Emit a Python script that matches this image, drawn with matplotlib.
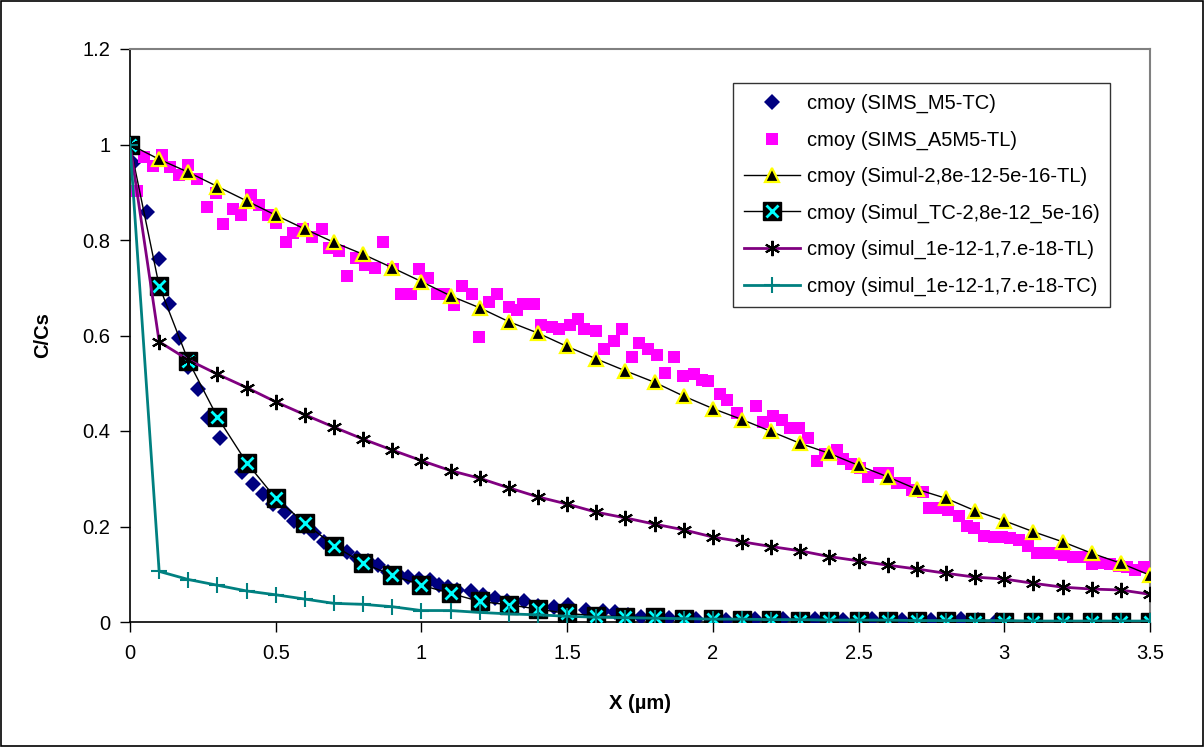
import matplotlib
matplotlib.use("Agg")
import matplotlib.pyplot as plt
from matplotlib.patches import Rectangle

plt.rcParams['font.family'] = ['Liberation Sans', 'DejaVu Sans']

# simulated profiles share the same depth grid (0 .. 3.5 um, step 0.1)
x_sim = [0.0, 0.1, 0.2, 0.3, 0.4, 0.5, 0.6, 0.7, 0.8, 0.9,
         1.0, 1.1, 1.2, 1.3, 1.4, 1.5, 1.6, 1.7, 1.8, 1.9,
         2.0, 2.1, 2.2, 2.3, 2.4, 2.5, 2.6, 2.7, 2.8, 2.9,
         3.0, 3.1, 3.2, 3.3, 3.4, 3.5]

simul_tl = [1.0, 0.969, 0.942, 0.912, 0.882, 0.852, 0.823, 0.795, 0.770, 0.742,
            0.713, 0.683, 0.658, 0.629, 0.605, 0.577, 0.551, 0.526, 0.502, 0.473,
            0.447, 0.424, 0.399, 0.374, 0.353, 0.328, 0.304, 0.278, 0.259, 0.233,
            0.212, 0.189, 0.168, 0.144, 0.123, 0.098]

simul_tc = [1.0, 0.704, 0.547, 0.429, 0.334, 0.259, 0.207, 0.160, 0.123, 0.098,
            0.077, 0.060, 0.043, 0.036, 0.027, 0.018, 0.013, 0.011, 0.010, 0.006,
            0.006, 0.004, 0.004, 0.003, 0.003, 0.002, 0.002, 0.002, 0.002, 0.001,
            0.001, 0.001, 0.001, 0.001, 0.001, 0.001]

simul2_tl = [1.0, 0.587, 0.549, 0.519, 0.491, 0.461, 0.434, 0.408, 0.383, 0.360,
             0.338, 0.317, 0.301, 0.281, 0.262, 0.247, 0.230, 0.218, 0.205, 0.193,
             0.178, 0.168, 0.158, 0.149, 0.137, 0.128, 0.119, 0.111, 0.102, 0.094,
             0.090, 0.081, 0.073, 0.069, 0.067, 0.058]

simul2_tc = [1.0, 0.106, 0.089, 0.077, 0.065, 0.057, 0.048, 0.039, 0.037, 0.032,
             0.024, 0.024, 0.020, 0.017, 0.015, 0.012, 0.010, 0.009, 0.008, 0.007,
             0.006, 0.006, 0.005, 0.005, 0.004, 0.004, 0.004, 0.003, 0.003, 0.003,
             0.003, 0.002, 0.002, 0.002, 0.002, 0.002]

# SIMS measurements
sims_tc_x = [0.01, 0.058, 0.10, 0.135, 0.168, 0.20, 0.234, 0.269, 0.309, 0.385,
             0.423, 0.458, 0.492, 0.532, 0.564, 0.598, 0.631, 0.667, 0.705, 0.744,
             0.778, 0.815, 0.852, 0.886, 0.92, 0.953, 0.99, 1.03, 1.06, 1.09,
             1.122, 1.17, 1.21, 1.251, 1.292, 1.353, 1.40, 1.455, 1.502, 1.563,
             1.624, 1.665, 1.71, 1.753, 1.80, 1.85, 1.90, 1.943, 2.00, 2.045,
             2.10, 2.146, 2.19, 2.241, 2.30, 2.35, 2.40, 2.445, 2.50, 2.547,
             2.60, 2.648, 2.70, 2.75, 2.80, 2.852, 2.91, 2.974]
sims_tc_y = [0.961, 0.859, 0.760, 0.665, 0.594, 0.535, 0.487, 0.427, 0.386, 0.315,
             0.290, 0.269, 0.247, 0.231, 0.212, 0.198, 0.186, 0.168, 0.157, 0.146,
             0.135, 0.127, 0.119, 0.105, 0.100, 0.095, 0.090, 0.089, 0.077, 0.073,
             0.068, 0.064, 0.057, 0.050, 0.044, 0.043, 0.034, 0.032, 0.036, 0.025,
             0.023, 0.020, 0.015, 0.011, 0.010, 0.008, 0.007, 0.006, 0.005, 0.004,
             0.005, 0.006, 0.005, 0.006, 0.005, 0.006, 0.005, 0.004, 0.005, 0.006,
             0.005, 0.004, 0.005, 0.004, 0.005, 0.006, 0.005, 0.004]

sims_tl_x = [0.023, 0.048, 0.080, 0.111, 0.137, 0.169, 0.198, 0.231, 0.265, 0.294,
             0.320, 0.352, 0.380, 0.414, 0.443, 0.475, 0.501, 0.534, 0.560, 0.593,
             0.626, 0.658, 0.684, 0.718, 0.744, 0.776, 0.806, 0.841, 0.867, 0.901,
             0.930, 0.963, 0.990, 1.024, 1.052, 1.078, 1.112, 1.138, 1.173, 1.199,
             1.233, 1.260, 1.301, 1.327, 1.350, 1.387, 1.409, 1.449, 1.473, 1.510,
             1.538, 1.559, 1.599, 1.627, 1.661, 1.687, 1.722, 1.748, 1.776, 1.807,
             1.836, 1.868, 1.897, 1.937, 1.962, 1.985, 2.025, 2.048, 2.083, 2.148,
             2.173, 2.208, 2.236, 2.265, 2.297, 2.325, 2.357, 2.385, 2.425, 2.446,
             2.473, 2.505, 2.534, 2.571, 2.600, 2.631, 2.660, 2.685, 2.722, 2.743,
             2.780, 2.808, 2.843, 2.871, 2.897, 2.932, 2.963, 2.991, 3.020, 3.052,
             3.083, 3.111, 3.146, 3.174, 3.205, 3.235, 3.269, 3.300, 3.329, 3.363,
             3.392, 3.420, 3.448, 3.480]
sims_tl_y = [0.903, 0.973, 0.956, 0.978, 0.952, 0.936, 0.958, 0.927, 0.870, 0.899,
             0.833, 0.865, 0.852, 0.894, 0.873, 0.852, 0.835, 0.795, 0.815, 0.824,
             0.807, 0.824, 0.783, 0.778, 0.725, 0.762, 0.748, 0.741, 0.795, 0.739,
             0.687, 0.687, 0.739, 0.720, 0.687, 0.687, 0.664, 0.704, 0.687, 0.596,
             0.671, 0.687, 0.659, 0.653, 0.666, 0.667, 0.622, 0.618, 0.613, 0.622,
             0.634, 0.613, 0.609, 0.572, 0.588, 0.614, 0.556, 0.585, 0.572, 0.559,
             0.522, 0.556, 0.515, 0.519, 0.507, 0.505, 0.477, 0.465, 0.437, 0.452,
             0.419, 0.431, 0.423, 0.406, 0.406, 0.386, 0.337, 0.351, 0.360, 0.341,
             0.331, 0.322, 0.304, 0.313, 0.313, 0.292, 0.292, 0.276, 0.272, 0.238,
             0.238, 0.235, 0.222, 0.201, 0.196, 0.180, 0.179, 0.177, 0.175, 0.172,
             0.159, 0.144, 0.144, 0.144, 0.140, 0.137, 0.137, 0.121, 0.123, 0.121,
             0.117, 0.116, 0.109, 0.116]

labels = ['cmoy (SIMS_M5-TC)', 'cmoy (SIMS_A5M5-TL)', 'cmoy (Simul-2,8e-12-5e-16-TL)',
          'cmoy (Simul_TC-2,8e-12_5e-16)', 'cmoy (simul_1e-12-1,7.e-18-TL)',
          'cmoy (simul_1e-12-1,7.e-18-TC)']

fs = 14.5

fig = plt.figure(figsize=(12.04, 7.47), dpi=100)
ax = fig.add_axes([130/1204, 125/747, 1020/1204, 573/747])

h1, = ax.plot(sims_tc_x, sims_tc_y, ls='none', marker='D', ms=8, color='#000080', mew=0, zorder=3)
h2, = ax.plot(sims_tl_x, sims_tl_y, ls='none', marker='s', ms=8.5, color='#FF00FF', mew=0, zorder=4)
h3, = ax.plot(x_sim, simul_tl, color='black', lw=1, marker='^', ms=9.5,
              mfc='black', mec='yellow', mew=1.6, zorder=5)
h4a, = ax.plot(x_sim, simul_tc, color='black', lw=1, marker='s', ms=12.5,
               mfc='black', mec='black', zorder=6)
h4b, = ax.plot(x_sim, simul_tc, ls='none', marker='x', ms=9, color='cyan', mew=2, zorder=6)
h5, = ax.plot(x_sim, simul2_tl, color='#800080', lw=2, marker=(6, 2, 0), ms=11,
              mec='black', mew=1.5, zorder=7)
h6, = ax.plot(x_sim, simul2_tc, color='#008080', lw=2, marker='+', ms=11,
              mec='#008080', mew=1.5, zorder=8)

ax.set_xlim(0, 3.5)
ax.set_ylim(0, 1.2)
ax.set_xticks([0, 0.5, 1, 1.5, 2, 2.5, 3, 3.5])
ax.set_xticklabels(['0', '0.5', '1', '1.5', '2', '2.5', '3', '3.5'])
ax.set_yticks([0, 0.2, 0.4, 0.6, 0.8, 1, 1.2])
ax.set_yticklabels(['0', '0.2', '0.4', '0.6', '0.8', '1', '1.2'])
ax.tick_params(direction='out', length=7, width=1, labelsize=fs, color='black')
ax.tick_params(axis='x', pad=9)
ax.tick_params(axis='y', pad=7)
for s in ['left', 'bottom']:
    ax.spines[s].set_color('black')
    ax.spines[s].set_linewidth(1.2)
for s in ['right', 'top']:
    ax.spines[s].set_color('#808080')
    ax.spines[s].set_linewidth(1.5)

ax.set_xlabel('X (µm)', fontsize=fs, fontweight='bold', labelpad=22)
ax.set_ylabel('C/Cs', fontsize=fs, fontweight='bold', labelpad=22)

leg = fig.legend([h1, h2, h3, (h4a, h4b), h5, h6], labels,
                 loc='upper left', bbox_to_anchor=(733/1204, 1 - 83/747),
                 fontsize=fs, frameon=True, fancybox=False, borderaxespad=0,
                 handlelength=2.8, handletextpad=0.3, labelspacing=0.86,
                 borderpad=0.55, numpoints=1)
leg.get_frame().set_edgecolor('black')
leg.get_frame().set_linewidth(1)

fig.patches.append(Rectangle((1/1204, 1/747), 1202/1204, 745/747, transform=fig.transFigure,
                             fill=False, edgecolor='black', lw=1.2))

fig.savefig('out.png', dpi=100)
